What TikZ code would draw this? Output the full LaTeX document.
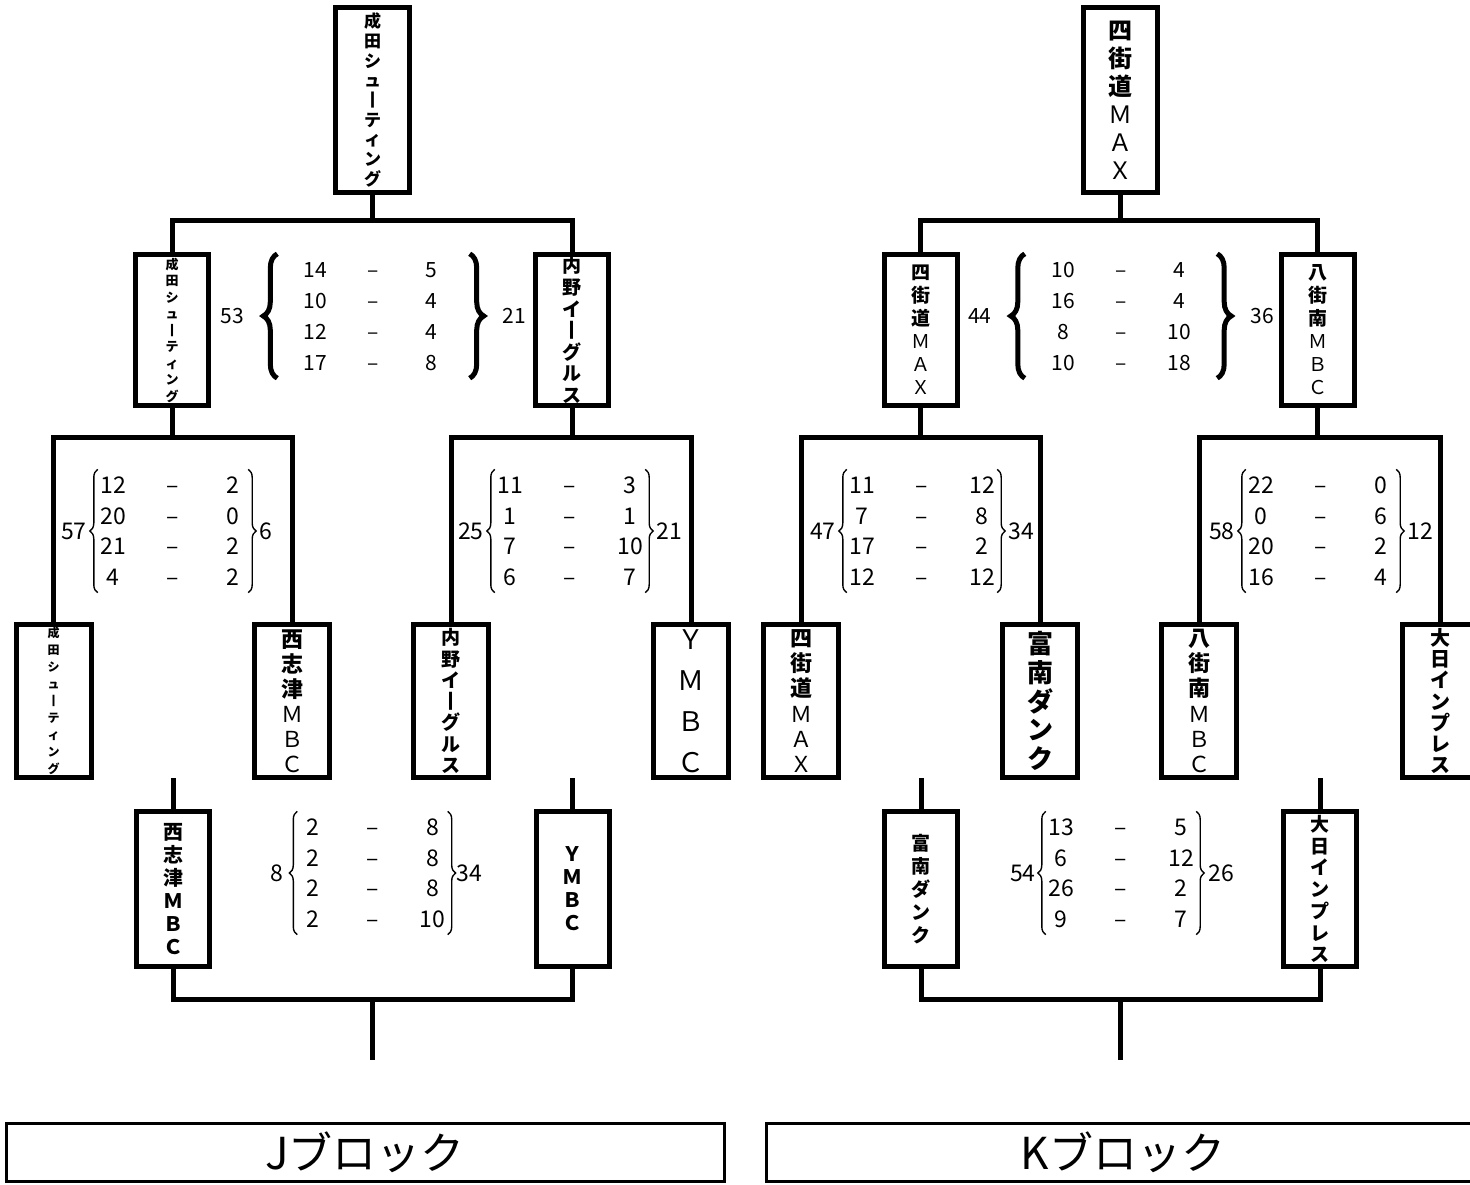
\documentclass[tikz,border=0pt]{standalone}
\usepackage{fontspec}
\setmainfont{Noto Sans CJK JP}
\usetikzlibrary{positioning}
\usetikzlibrary{matrix}
\usetikzlibrary{decorations.pathreplacing}

\begin{document}
\begin{tikzpicture}[x=1pt,y=-1pt,
  team/.style={draw,line width=5pt,inner sep=0pt,align=center},
  tsize/.style 2 args={font=\bfseries\fontsize{#1}{#2}\selectfont},
  champ/.style={team,minimum width=74pt,minimum height=185pt},
  semi/.style={team,minimum width=73pt,minimum height=151pt},
  qf/.style={team,minimum width=75pt,minimum height=152.5pt},
  low/.style={team,minimum width=73pt,minimum height=155pt},
  conn/.style={line width=5pt},
  scoreS/.style={matrix of nodes,inner xsep=20pt,inner ysep=0pt,column sep=22pt,
    nodes={minimum width=36pt,minimum height=31pt,inner sep=0pt,anchor=center,
      text height=15.5pt,text depth=0pt,font=\fontsize{21}{21}\selectfont}},
  scoreQ/.style={matrix of nodes,inner sep=0pt,column sep=30pt,
    nodes={minimum width=30pt,minimum height=30.7pt,inner sep=0pt,anchor=center,
      text height=17pt,text depth=0pt,font=\fontsize{23}{23}\selectfont}},
  totS/.style={inner sep=0pt,font=\fontsize{21}{21}\selectfont},
  totQ/.style={inner sep=0pt,font=\fontsize{23}{23}\selectfont},
  bigbrace/.style={decorate,decoration={brace,amplitude=14pt},line width=5pt},
  thinbrace/.style={decorate,decoration={brace,amplitude=8pt},line width=1.4pt},
  blocktitle/.style={draw,line width=3pt,minimum height=58pt,inner sep=0pt,font=\fontsize{44}{44}\selectfont}
]
  % Page
  \useasboundingbox (0,0) rectangle (1470,1184);

  % ---- J block ----
  % Teams
  \node[champ,tsize={17}{19.7}] (jchamp) at (372.5,100) {成\\田\\シ\\ュ\\丨\\テ\\ィ\\ン\\グ};
  \node[semi,tsize={13}{16.5}] (jsA) at (172,330) {成\\田\\シ\\ュ\\丨\\テ\\ィ\\ン\\グ};
  \node[semi,tsize={19}{21.6}] (jsB) at (572,330) {内\\野\\イ\\丨\\グ\\ル\\ス};
  \node[qf,tsize={12}{17}] (jqA) at (53.5,701) {成\\田\\シ\\ュ\\丨\\テ\\ィ\\ン\\グ};
  \node[qf,tsize={22}{25}] (jqB) at (292,701) {西\\志\\津\\{\mdseries Ｍ}\\{\mdseries Ｂ}\\{\mdseries Ｃ}};
  \node[qf,tsize={19}{21.3}] (jqC) at (451,701) {内\\野\\イ\\丨\\グ\\ル\\ス};
  \node[qf,tsize={27}{41}] (jqD) at (691,701) {{\mdseries Ｙ}\\{\mdseries Ｍ}\\{\mdseries Ｂ}\\{\mdseries Ｃ}};
  \node[low,tsize={20}{23}] (jlA) at (173,889) {西\\志\\津\\Ｍ\\Ｂ\\Ｃ};
  \node[low,tsize={20}{23}] (jlB) at (572.5,889) {Ｙ\\Ｍ\\Ｂ\\Ｃ};
  % Joins
  \coordinate (jtop) at (372.5,220);
  \coordinate (jqL) at (172,437);
  \coordinate (jqR) at (572,437);
  \coordinate (jtA) at (173,778);
  \coordinate (jtB) at (572.5,778);
  \coordinate (jbot) at (372.5,999.5);
  \coordinate (jend) at (372.5,1060);
  % Bracket lines
  \draw[conn] (jchamp.south) -- (jtop);
  \draw[conn] (jsA.north) |- (jtop) -| (jsB.north);
  \draw[conn] (jsA.south) -- (jqL);
  \draw[conn] (jqA.north) |- (jqL) -| (jqB.north);
  \draw[conn] (jsB.south) -- (jqR);
  \draw[conn] (jqC.north) |- (jqR) -| (jqD.north);
  \draw[conn] (jtA) -- (jlA.north);
  \draw[conn] (jtB) -- (jlB.north);
  \draw[conn] (jlA.south) |- (jbot) -| (jlB.south);
  \draw[conn] (jbot) -- (jend);
  % Scores
  \matrix (jsS) [scoreS] at (373.5,316) {14 & – & 5\\ 10 & – & 4\\ 12 & – & 4\\ 17 & – & 8\\};
  \draw[bigbrace] (jsS.south west) -- (jsS.north west);
  \draw[bigbrace] (jsS.north east) -- (jsS.south east);
  \node[totS,left=33pt of jsS] (jsS1) {53};
  \node[totS,right=33pt of jsS] (jsS2) {21};
  \matrix (jqS1) [scoreQ] at (173,531) {12 & – & 2\\ 20 & – & 0\\ 21 & – & 2\\ 4 & – & 2\\};
  \draw[thinbrace] (jqS1.south west) -- (jqS1.north west);
  \draw[thinbrace] (jqS1.north east) -- (jqS1.south east);
  \node[totQ,left=11pt of jqS1] (jqS1a) {57};
  \node[totQ,right=11pt of jqS1] (jqS1b) {6};
  \matrix (jqS2) [scoreQ] at (570,531) {11 & – & 3\\ 1 & – & 1\\ 7 & – & 10\\ 6 & – & 7\\};
  \draw[thinbrace] (jqS2.south west) -- (jqS2.north west);
  \draw[thinbrace] (jqS2.north east) -- (jqS2.south east);
  \node[totQ,left=11pt of jqS2] (jqS2a) {25};
  \node[totQ,right=11pt of jqS2] (jqS2b) {21};
  \matrix (jlS) [scoreQ] at (372.5,873) {2 & – & 8\\ 2 & – & 8\\ 2 & – & 8\\ 2 & – & 10\\};
  \draw[thinbrace] (jlS.south west) -- (jlS.north west);
  \draw[thinbrace] (jlS.north east) -- (jlS.south east);
  \node[totQ,left=14pt of jlS] (jlSa) {8};
  \node[totQ,right=9pt of jlS] (jlSb) {34};
  % Title
  \node[blocktitle,minimum width=718pt] (jtitle) at (365,1152) {Jブロック};

  % ---- K block ----
  % Teams
  \node[champ,tsize={24}{28}] (kchamp) at (1120,100) {四\\街\\道\\{\mdseries Ｍ}\\{\mdseries Ａ}\\{\mdseries Ｘ}};
  \node[semi,tsize={19}{23}] (ksA) at (920.5,330) {四\\街\\道\\{\mdseries Ｍ}\\{\mdseries Ａ}\\{\mdseries Ｘ}};
  \node[semi,tsize={19}{23}] (ksB) at (1317.5,330) {八\\街\\南\\{\mdseries Ｍ}\\{\mdseries Ｂ}\\{\mdseries Ｃ}};
  \node[qf,tsize={22}{25.2}] (kqA) at (801,701) {四\\街\\道\\{\mdseries Ｍ}\\{\mdseries Ａ}\\{\mdseries Ｘ}};
  \node[qf,tsize={26}{28.7}] (kqB) at (1040,701) {富\\南\\ダ\\ン\\ク};
  \node[qf,tsize={22}{25.2}] (kqC) at (1199,701) {八\\街\\南\\{\mdseries Ｍ}\\{\mdseries Ｂ}\\{\mdseries Ｃ}};
  \node[qf,tsize={20}{21.3}] (kqD) at (1440,701) {大\\日\\イ\\ン\\プ\\レ\\ス};
  \node[low,tsize={19}{23}] (klA) at (921,889) {富\\南\\ダ\\ン\\ク};
  \node[low,tsize={19}{21.7}] (klB) at (1320,889) {大\\日\\イ\\ン\\プ\\レ\\ス};
  % Joins
  \coordinate (ktop) at (1120,220);
  \coordinate (kqL) at (920.5,437);
  \coordinate (kqR) at (1317.5,437);
  \coordinate (ktA) at (921,778);
  \coordinate (ktB) at (1320,778);
  \coordinate (kbot) at (1120.5,999.5);
  \coordinate (kend) at (1120.5,1060);
  % Bracket lines
  \draw[conn] (kchamp.south) -- (ktop);
  \draw[conn] (ksA.north) |- (ktop) -| (ksB.north);
  \draw[conn] (ksA.south) -- (kqL);
  \draw[conn] (kqA.north) |- (kqL) -| (kqB.north);
  \draw[conn] (ksB.south) -- (kqR);
  \draw[conn] (kqC.north) |- (kqR) -| (kqD.north);
  \draw[conn] (ktA) -- (klA.north);
  \draw[conn] (ktB) -- (klB.north);
  \draw[conn] (klA.south) |- (kbot) -| (klB.south);
  \draw[conn] (kbot) -- (kend);
  % Scores
  \matrix (ksS) [scoreS] at (1121,316) {10 & – & 4\\ 16 & – & 4\\ 8 & – & 10\\ 10 & – & 18\\};
  \draw[bigbrace] (ksS.south west) -- (ksS.north west);
  \draw[bigbrace] (ksS.north east) -- (ksS.south east);
  \node[totS,left=33pt of ksS] (ksS1) {44};
  \node[totS,right=33pt of ksS] (ksS2) {36};
  \matrix (kqS1) [scoreQ] at (922,531) {11 & – & 12\\ 7 & – & 8\\ 17 & – & 2\\ 12 & – & 12\\};
  \draw[thinbrace] (kqS1.south west) -- (kqS1.north west);
  \draw[thinbrace] (kqS1.north east) -- (kqS1.south east);
  \node[totQ,left=11pt of kqS1] (kqS1a) {47};
  \node[totQ,right=11pt of kqS1] (kqS1b) {34};
  \matrix (kqS2) [scoreQ] at (1321,531) {22 & – & 0\\ 0 & – & 6\\ 20 & – & 2\\ 16 & – & 4\\};
  \draw[thinbrace] (kqS2.south west) -- (kqS2.north west);
  \draw[thinbrace] (kqS2.north east) -- (kqS2.south east);
  \node[totQ,left=11pt of kqS2] (kqS2a) {58};
  \node[totQ,right=11pt of kqS2] (kqS2b) {12};
  \matrix (klS) [scoreQ] at (1121,873) {13 & – & 5\\ 6 & – & 12\\ 26 & – & 2\\ 9 & – & 7\\};
  \draw[thinbrace] (klS.south west) -- (klS.north west);
  \draw[thinbrace] (klS.north east) -- (klS.south east);
  \node[totQ,left=10pt of klS] (klSa) {54};
  \node[totQ,right=12pt of klS] (klSb) {26};
  % Title
  \node[blocktitle,minimum width=714pt] (ktitle) at (1123,1152) {Kブロック};
\end{tikzpicture}
\end{document}
